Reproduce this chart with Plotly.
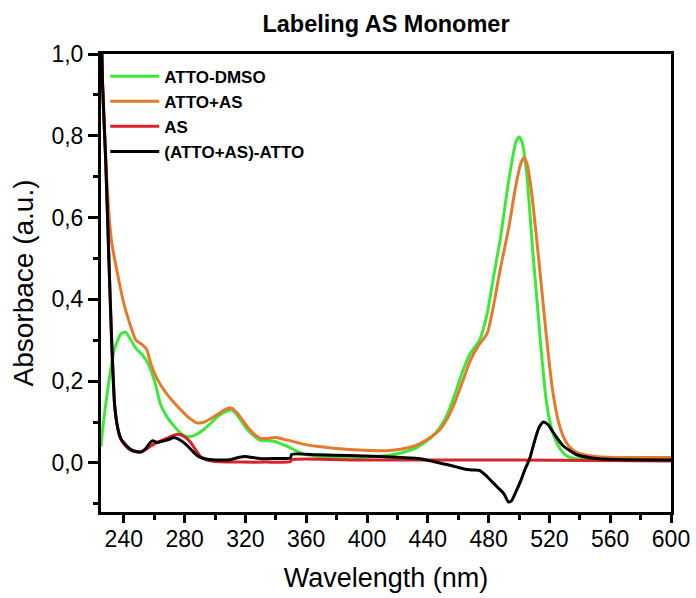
import plotly.graph_objects as go

# ATTO-DMSO
wl_green = [225, 226, 228, 231, 234, 238, 241, 244, 248, 252, 255, 258, 261, 264, 268, 272, 276, 280, 284,
            288, 293, 298, 303, 308, 311, 315, 320, 325, 330, 335, 339, 343, 348, 353, 358, 368, 378, 398,
            413, 423, 433, 443, 448, 453, 458, 463, 468, 474, 479, 483, 488, 492, 495, 498, 500, 502, 505,
            507, 509, 512, 514, 516, 518, 521, 525, 529, 533, 538, 558, 578, 600]
abs_green = [0.04, 0.08, 0.14, 0.22, 0.28, 0.315, 0.32, 0.305, 0.28, 0.265, 0.25, 0.225, 0.19, 0.145, 0.115,
             0.095, 0.078, 0.066, 0.064, 0.07, 0.083, 0.1, 0.117, 0.127, 0.129, 0.115, 0.088, 0.068, 0.055,
             0.054, 0.053, 0.047, 0.04, 0.03, 0.022, 0.016, 0.014, 0.014, 0.018, 0.025, 0.038, 0.065, 0.087,
             0.12, 0.17, 0.225, 0.268, 0.3, 0.364, 0.45, 0.555, 0.66, 0.73, 0.785, 0.797, 0.785, 0.71, 0.62,
             0.52, 0.39, 0.3, 0.22, 0.15, 0.09, 0.048, 0.025, 0.014, 0.01, 0.01, 0.01, 0.01]

# ATTO+AS
wl_orange = [225, 226, 228, 230, 232, 236, 240, 244, 248, 252, 255, 258, 262, 268, 273, 278, 283, 288, 293,
             298, 303, 308, 311, 315, 321, 326, 330, 335, 340, 345, 350, 358, 368, 378, 398, 413, 423, 433,
             443, 448, 453, 458, 463, 468, 473, 479, 483, 488, 493, 498, 501, 503, 505, 508, 511, 514, 518,
             522, 526, 529, 533, 538, 548, 558, 578, 600]
abs_orange = [1.1, 0.92, 0.75, 0.62, 0.54, 0.46, 0.39, 0.34, 0.3, 0.29, 0.278, 0.24, 0.205, 0.17, 0.148,
              0.128, 0.11, 0.098, 0.1, 0.11, 0.122, 0.133, 0.134, 0.12, 0.09, 0.07, 0.06, 0.06, 0.062, 0.058,
              0.054, 0.046, 0.04, 0.036, 0.031, 0.03, 0.034, 0.044, 0.066, 0.082, 0.11, 0.15, 0.2, 0.251,
              0.285, 0.316, 0.38, 0.48, 0.57, 0.68, 0.73, 0.746, 0.735, 0.67, 0.57, 0.46, 0.31, 0.18, 0.1,
              0.066, 0.04, 0.026, 0.017, 0.014, 0.013, 0.013]

# AS
wl_red = [225, 226, 228, 230, 232, 234, 236, 238, 241, 245, 248, 251, 254, 258, 263, 268, 273, 276, 280,
          284, 288, 291, 296, 303, 318, 333, 349.5, 350.5, 398, 448, 498, 548, 600]
abs_red = [1.1, 0.93, 0.75, 0.52, 0.3, 0.14, 0.085, 0.058, 0.042, 0.03, 0.027, 0.026, 0.032, 0.042, 0.052,
           0.06, 0.068, 0.07, 0.064, 0.05, 0.028, 0.014, 0.006, 0.003, 0.002, 0.002, 0.003, 0.008, 0.007,
           0.007, 0.007, 0.006, 0.005]

# (ATTO+AS)-ATTO
wl_black = [225, 226, 228, 230, 232, 234, 236, 238, 241, 245, 248, 251, 254, 257, 259, 262, 266, 270, 273,
            277, 281, 286, 290, 295, 303, 310, 316, 320, 325, 332, 340, 349.5, 350.5, 368, 388, 408, 423, 435,
            443, 450, 458, 464, 469, 474, 478, 482, 486, 490, 493, 495, 498, 501, 504, 507, 510, 513, 516,
            519, 523, 529, 538, 548, 558, 600]
abs_black = [1.1, 0.93, 0.75, 0.52, 0.3, 0.14, 0.085, 0.06, 0.045, 0.032, 0.028, 0.027, 0.033, 0.048,
             0.054, 0.05, 0.054, 0.058, 0.062, 0.056, 0.045, 0.026, 0.014, 0.009, 0.007, 0.008, 0.014,
             0.016, 0.013, 0.01, 0.011, 0.012, 0.021, 0.02, 0.018, 0.016, 0.013, 0.01, 0.004, -0.002,
             -0.009, -0.015, -0.017, -0.018, -0.03, -0.045, -0.06, -0.075, -0.095, -0.093, -0.07, -0.045,
             -0.015, 0.01, 0.05, 0.085, 0.1, 0.094, 0.072, 0.042, 0.02, 0.012, 0.009, 0.007]

x_ticks = [240, 280, 320, 360, 400, 440, 480, 520, 560, 600]
y_ticks = [0.0, 0.2, 0.4, 0.6, 0.8, 1.0]

FONT = "Arial, Liberation Sans, sans-serif"

fig = go.Figure()
series = [
    ("ATTO-DMSO", wl_green, abs_green, "#3ee83a"),
    ("ATTO+AS", wl_orange, abs_orange, "#e47a2c"),
    ("AS", wl_red, abs_red, "#d8232a"),
    ("(ATTO+AS)-ATTO", wl_black, abs_black, "#000000"),
]
for name, xs, ys, col in series:
    fig.add_trace(go.Scatter(x=xs, y=ys, name=name, mode="lines",
                             line=dict(color=col, width=3, shape="spline", smoothing=0.6)))

fig.update_layout(
    width=696, height=598,
    margin=dict(l=101, r=25, t=54, b=86),
    paper_bgcolor="white", plot_bgcolor="white",
    separators=",.",
    font=dict(family=FONT, color="black"),
    title=dict(text="<b>Labeling AS Monomer</b>", x=(101 + 671) / 2 / 696, xanchor="center",
               y=1 - 24 / 598, yanchor="middle", font=dict(size=23.5, family=FONT)),
    legend=dict(x=0.0075, y=0.99, xanchor="left", yanchor="top", bgcolor="rgba(0,0,0,0)",
                font=dict(size=17, family=FONT, weight="bold"), tracegroupgap=0, itemwidth=49),
    showlegend=True,
)
fig.update_xaxes(
    range=[225, 600], tickvals=x_ticks, ticks="outside", ticklen=8, tickwidth=3, tickcolor="black",
    minor=dict(dtick=20, tick0=240, ticks="outside", ticklen=5, tickwidth=3, tickcolor="black"),
    showline=True, linewidth=3, linecolor="black", mirror=True, showgrid=False, zeroline=False,
    tickfont=dict(size=23, family=FONT), ticklabelstandoff=-4, automargin=False,
    title=dict(text="Wavelength (nm)", font=dict(size=27, family=FONT), standoff=18),
)
fig.update_yaxes(
    range=[-0.12, 1.0], tickvals=y_ticks, tickformat=".1f", ticks="outside", ticklen=10, tickwidth=3,
    tickcolor="black",
    minor=dict(dtick=0.1, tick0=0, ticks="outside", ticklen=5, tickwidth=3, tickcolor="black"),
    showline=True, linewidth=3, linecolor="black", mirror=True, showgrid=False, zeroline=False,
    tickfont=dict(size=23, family=FONT), automargin=False,
    title=dict(text="Absorbace (a.u.)", font=dict(size=28, family=FONT), standoff=10),
)

fig.write_html("out.html")
